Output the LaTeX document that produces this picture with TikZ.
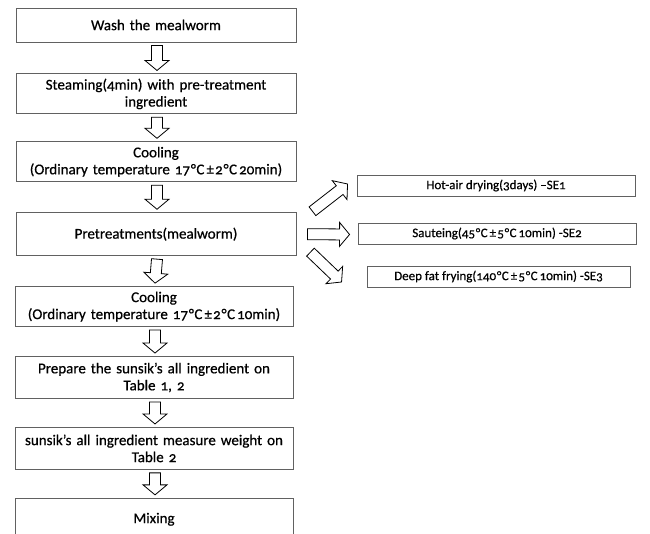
\documentclass[tikz,border=0pt]{standalone}
\usepackage{fontspec}
\setmainfont[Numbers=OldStyle,FakeBold=0.6]{Carlito}
\usetikzlibrary{calc,positioning}
\definecolor{boxgray}{rgb}{0.38,0.38,0.38}
\newcommand{\degc}{\kern0.8pt°\kern0.5pt C\kern2pt}
\newcommand{\pmx}{±\kern1.2pt}
\tikzset{
  process/.style={
    draw=boxgray,
    line width=0.9pt,
    align=center,
    text width=278pt,
    minimum width=280pt,
    inner sep=0pt,
    font=\fontsize{15}{17}\selectfont
  },
  branch/.style={
    draw=boxgray,
    line width=0.9pt,
    align=center,
    minimum width=278pt,
    minimum height=21pt,
    inner sep=0pt,
    font=\fontsize{13}{15}\selectfont
  },
  hollow/.style={
    draw=black,
    line width=0.8pt,
    fill=white,
    line join=miter
  }
}
% block arrow from #1 (tail) to #2 (tip)
\newcommand{\fatarrow}[2]{%
  \coordinate (neck) at ($(#2)!10pt!(#1)$);
  \draw[hollow] ($(#1)!5.5pt!90:(#2)$) -- ($(neck)!5.5pt!-90:(#1)$)
    -- ($(neck)!12pt!-90:(#1)$) -- (#2) -- ($(neck)!12pt!90:(#1)$)
    -- ($(neck)!5.5pt!90:(#1)$) -- ($(#1)!5.5pt!-90:(#2)$) -- cycle;
}
\begin{document}
\begin{tikzpicture}[x=1pt,y=-1pt]
\useasboundingbox (0,0) rectangle (650,534);
\clip (0,0) rectangle (650,534);
% main flow
\node[process, minimum height=34pt] (wash) at (156,25) {Wash the mealworm};
\node[process, minimum height=40pt, below=31pt of wash] (steam) {Steaming(4min) with pre-treatment\\ingredient};
\node[process, minimum height=40pt, below=27pt of steam] (cool1) {Cooling\\(Ordinary temperature 17\degc\pmx2\degc 20min)};
\node[process, minimum height=43pt, below=30pt of cool1] (pre) {Pretreatments(mealworm)};
\node[process, minimum height=40pt, minimum width=278pt, below=30pt of pre, xshift=-2pt] (cool2) {Cooling\\(Ordinary temperature 17\degc\pmx2\degc 10min)};
\node[process, minimum height=42pt, minimum width=278pt, below=29pt of cool2] (prep) {Prepare the sunsik’s all ingredient on\\Table 1, 2};
\node[process, minimum height=42pt, minimum width=278pt, below=28pt of prep] (weigh) {sunsik’s all ingredient measure weight on\\Table 2};
\node[process, minimum height=42pt, minimum width=278pt, below=28pt of weigh] (mix) {Mixing};
% branches
\node[branch] (hot) at (496,185.5) {Hot-air drying(3days) –SE1};
\node[branch] (saute) at (497,233.5) {Sauteing(45\degc\pmx5\degc 10min) -SE2};
\node[branch, minimum width=263pt] (deep) at (498.5,276.5) {Deep fat frying(140\degc\pmx5\degc 10min) -SE3};

\foreach \a/\b in {wash/steam, steam/cool1, cool1/pre, pre/cool2, cool2/prep, prep/weigh, weigh/mix} {
  \coordinate (s) at ($(\a.south)+(1,3)$);
  \coordinate (t) at ($(\b.north)+(1,-3)$);
  \fatarrow{s}{t}
}
\coordinate (u1) at ($(pre.north east)+(16,-1)$);
\coordinate (u2) at ($(hot.west)+(-9,-1.5)$);
\fatarrow{u1}{u2}
\coordinate (h1) at ($(pre.east)+(11,0)$);
\coordinate (h2) at ($(saute.west)+(-8,1)$);
\fatarrow{h1}{h2}
\coordinate (d1) at ($(pre.south east)+(14,-4)$);
\coordinate (d2) at ($(deep.west)+(-25,5.5)$);
\fatarrow{d1}{d2}
\end{tikzpicture}
\end{document}
